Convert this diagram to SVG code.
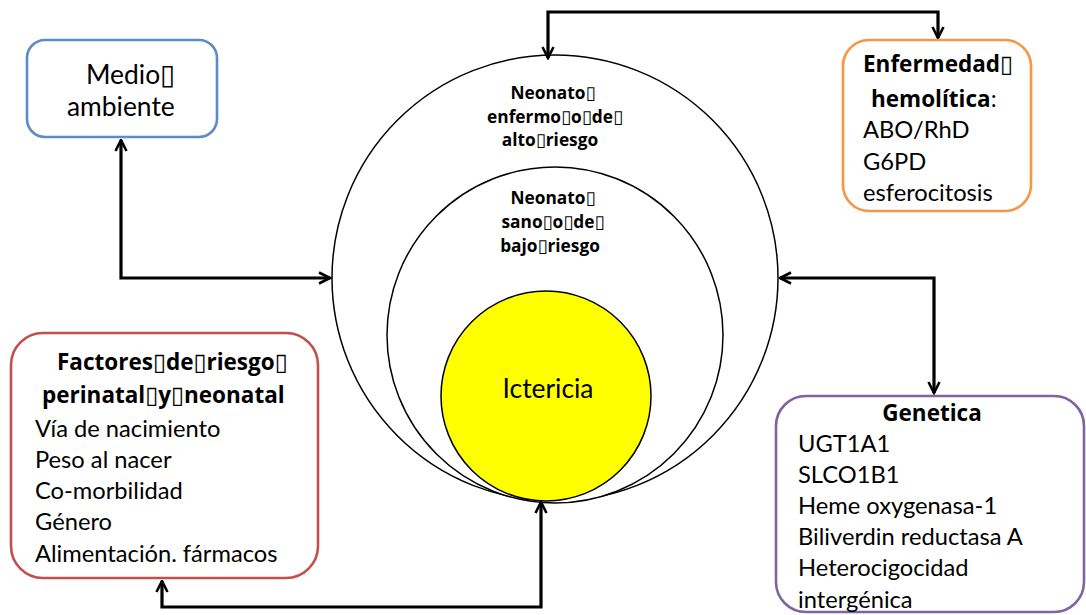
<svg xmlns="http://www.w3.org/2000/svg" width="1086" height="615" viewBox="0 0 1086 615">
<defs>
<marker id="arr" viewBox="0 0 14 14" refX="12.5" refY="7" markerWidth="14" markerHeight="14" markerUnits="userSpaceOnUse" orient="auto-start-reverse">
<path d="M1.5,1.5 L12.5,7 L1.5,12.5" fill="none" stroke="#000" stroke-width="2.6"/>
</marker>
</defs>
<style>
text{font-family:Lato,"Liberation Sans",sans-serif;fill:#000}
.t{font-size:23.7px}
.big{font-size:26.4px}
.h{font-family:"Open Sans",Lato,sans-serif;font-weight:bold;font-size:22.5px}
.s{font-family:"Open Sans",Lato,sans-serif;font-weight:bold;font-size:17.3px}
.x{font-family:"DejaVu Sans",sans-serif;font-weight:normal;font-size:1.05em}
.conn{fill:none;stroke:#000;stroke-width:3.2;marker-start:url(#arr);marker-end:url(#arr)}
.box{fill:#fff;stroke-width:2.6}
.circ{fill:#fff;stroke:#000;stroke-width:1.5}
</style>
<rect width="1086" height="615" fill="#fff"/>
<g id="circles">
<g id="outer"><circle class="circ" cx="555" cy="278" r="223"/>
<text class="s" text-anchor="middle" x="553" y="99">Neonato<tspan class="x">▯</tspan></text>
<text class="s" text-anchor="middle" x="555" y="123">enfermo<tspan class="x">▯</tspan>o<tspan class="x">▯</tspan>de<tspan class="x">▯</tspan></text>
<text class="s" text-anchor="middle" x="550" y="146">alto<tspan class="x">▯</tspan>riesgo</text></g>
<g id="middle"><circle class="circ" cx="555" cy="335" r="168"/>
<text class="s" text-anchor="middle" x="553" y="204">Neonato<tspan class="x">▯</tspan></text>
<text class="s" text-anchor="middle" x="553" y="228">sano<tspan class="x">▯</tspan>o<tspan class="x">▯</tspan>de<tspan class="x">▯</tspan></text>
<text class="s" text-anchor="middle" x="550" y="252">bajo<tspan class="x">▯</tspan>riesgo</text></g>
<g id="ictericia"><circle cx="546" cy="396" r="105" fill="#ffff00" stroke="#000" stroke-width="1.5"/>
<text class="big" text-anchor="middle" x="548" y="398">Ictericia</text></g>
</g>
<g id="connectors">
<polyline class="conn" points="121,140 121,278 330,278"/>
<polyline class="conn" points="548,58 548,12 938,12 938,38"/>
<polyline class="conn" points="780,278 934,278 934,393"/>
<polyline class="conn" points="162,581 162,607 541,607 541,502"/>
</g>
<g id="medio">
<rect class="box" x="27" y="40" width="190" height="97" rx="18" stroke="#5B8BC9"/>
<text class="big" x="86" y="84">Medio<tspan class="x">▯</tspan></text>
<text class="big" x="67" y="116">ambiente</text>
</g>
<g id="enfermedad">
<rect class="box" x="843" y="40" width="188" height="171" rx="26" stroke="#F79646"/>
<text class="h" x="863" y="72">Enfermedad<tspan class="x">▯</tspan></text>
<text class="t" x="871" y="107"><tspan class="h">hemolítica</tspan>:</text>
<text class="t" x="863" y="138">ABO/RhD</text>
<text class="t" x="863" y="170">G6PD</text>
<text class="t" x="863" y="201">esferocitosis</text>
</g>
<g id="factores">
<rect class="box" x="11" y="333" width="307" height="245" rx="32" stroke="#C0504D"/>
<text class="h" x="57" y="370">Factores<tspan class="x">▯</tspan>de<tspan class="x">▯</tspan>riesgo<tspan class="x">▯</tspan></text>
<text class="h" x="42" y="403">perinatal<tspan class="x">▯</tspan>y<tspan class="x">▯</tspan>neonatal</text>
<text class="t" x="35" y="437">Vía de nacimiento</text>
<text class="t" x="35" y="468">Peso al nacer</text>
<text class="t" x="35" y="499">Co-morbilidad</text>
<text class="t" x="35" y="530">Género</text>
<text class="t" x="35" y="562">Alimentación. fármacos</text>
</g>
<g id="genetica">
<rect class="box" x="776" y="396" width="308" height="216" rx="30" stroke="#8064A2"/>
<text class="h" text-anchor="middle" x="932" y="421">Genetica</text>
<text class="t" x="798" y="452">UGT1A1</text>
<text class="t" x="798" y="483">SLCO1B1</text>
<text class="t" x="798" y="514">Heme oxygenasa-1</text>
<text class="t" x="798" y="545">Biliverdin reductasa A</text>
<text class="t" x="798" y="576">Heterocigocidad</text>
<text class="t" x="798" y="608">intergénica</text>
</g>
</svg>
